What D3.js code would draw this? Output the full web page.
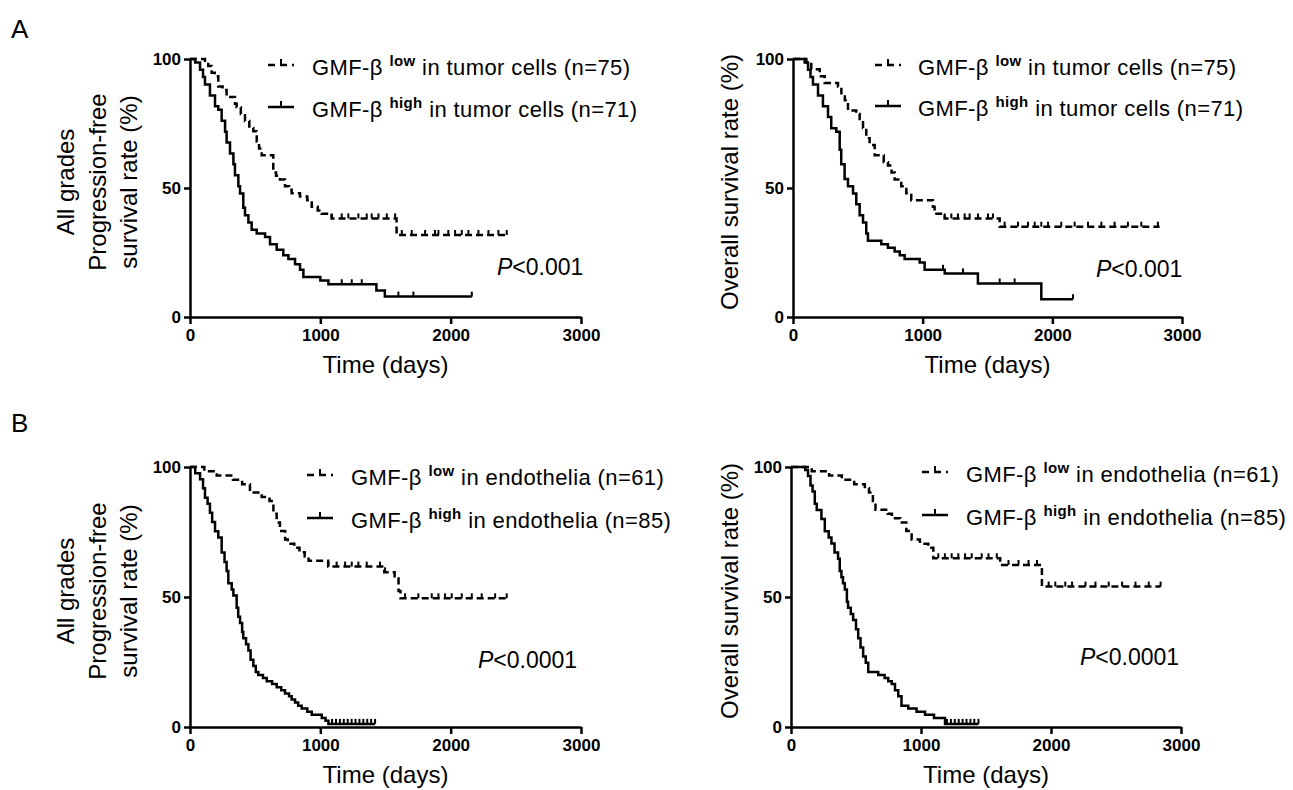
<!DOCTYPE html>
<html>
<head>
<meta charset="utf-8">
<script src="https://cdn.jsdelivr.net/npm/d3@7"></script>
<style>
  body { margin: 0; background: #fff; }
  text { font-family: "Liberation Sans", Arial, sans-serif; fill: #000; }
</style>
</head>
<body>
<script>

//Kaplan-Meier steps: [days, survival %]
var aPfsLow = [[0,100],[115,98.7],[140,97.3],[166,94.7],[190,93.3],[217,89.3],[250,88],[281,85.3],[345,82.7],[358,81.3],[390,78.7],[422,76],[455,73.3],[486,72],[512,68],[530,65.3],[550,62.7],[639,56],[660,54.7],[690,53.3],[729,50.7],[760,49.3],[780,48],[844,46.7],[900,45.3],[934,42.7],[980,41.3],[1010,40],[1087,38.2],[1585,31.8],[2430,31.8]];
var aPfsHigh = [[0,100],[40,98.6],[77,95.8],[100,93],[115,90.1],[153,85.9],[192,81.7],[217,80.3],[243,76.1],[269,71.8],[281,67.6],[307,63.4],[333,59.2],[345,54.9],[371,50.7],[384,47.9],[409,42.3],[422,39.4],[448,36.6],[473,33.8],[512,32.4],[576,31],[614,28.2],[665,26.1],[716,23.9],[755,22.5],[806,20.4],[844,18.3],[870,15.5],[1000,14.1],[1062,12.7],[1430,10.3],[1495,7.9],[2162,7.9]];
var aOsLow = [[0,100],[103,98.7],[141,96],[206,93.3],[244,90.7],[347,89.3],[373,86.7],[400,84],[424,80],[488,78.7],[514,76],[540,73.3],[565,69.3],[591,66.7],[630,62.7],[700,60],[732,58.7],[760,56],[784,53.3],[835,50.7],[874,48],[912,45.3],[1079,42.7],[1092,40],[1170,38.2],[1594,35],[2827,35]];
var aOsHigh = [[0,100],[90,98.6],[116,95.8],[135,93],[154,90.1],[193,85.9],[231,81.7],[270,77.5],[295,73.2],[334,71.8],[360,64.8],[372,59.2],[398,53.5],[424,50.7],[463,47.9],[488,43.7],[514,39.4],[540,36.6],[565,32.4],[578,29.6],[681,28.2],[732,26.8],[784,25.4],[823,23.9],[861,22.5],[977,21.1],[1015,18.3],[1170,16.9],[1426,13],[1915,6.9],[2159,6.9]];
var bPfsLow = [[0,100],[110,98.4],[205,96.7],[330,95.1],[400,93.4],[460,90.2],[550,88.5],[610,86.9],[640,82],[665,78.7],[690,75.4],[730,72.1],[750,70.5],[800,68.9],[840,67.2],[880,65.6],[910,63.9],[1060,61.7],[1490,59.5],[1570,57.1],[1600,52.3],[1615,49.5],[2435,49.5]];
var bPfsHigh = [[0,100],[40,97.6],[77,95.3],[100,91.8],[115,88.2],[135,85.9],[153,82.4],[170,78.8],[192,75.3],[217,72.9],[243,67.1],[265,63.5],[281,60],[294,55.3],[320,52.9],[333,50.6],[358,45.9],[370,42.4],[384,40],[400,36.5],[409,34.1],[430,31.8],[448,29.4],[465,25.9],[486,23.5],[505,21.2],[524,20],[560,18.8],[589,17.6],[630,16.5],[665,15.3],[700,14.1],[729,12.9],[760,11.8],[780,10.6],[806,9.4],[830,8.2],[857,7.1],[900,5.9],[934,4.7],[1011,3.5],[1040,2.4],[1062,1.2],[1420,1.2]];
var bOsLow = [[0,100],[160,98.4],[293,96.7],[391,95.1],[486,93.4],[568,91.8],[600,90.2],[630,86.9],[650,83.6],[744,82],[776,80.3],[840,78.7],[887,75.4],[928,72.1],[992,70.5],[1056,68.9],[1095,64.9],[1609,62.3],[1930,54],[2843,54]];
var bOsHigh = [[0,100],[110,98.8],[131,96.5],[150,92.9],[166,90.6],[183,85.9],[198,83.5],[234,80],[260,75.3],[290,72.9],[311,70.6],[335,67.1],[362,64.7],[375,60],[388,57.6],[400,55.3],[414,52.9],[430,48.2],[439,45.9],[460,43.5],[478,41.2],[500,37.6],[517,34.1],[535,30.6],[555,27.1],[575,24.7],[594,21.2],[671,20],[720,18.8],[748,17.6],[775,16.5],[800,14.1],[825,11.8],[850,8.2],[902,7.1],[966,5.9],[1031,4.7],[1100,3.5],[1185,1.2],[1442,1.2]];

//Censored times (days)
var aPfsLowCens = [1087,1164,1215,1292,1356,1394,1446,1510,1574,1625,1701,1804,1880,1906,1982,2034,2085,2136,2213,2290,2366,2430];
var aPfsHighCens = [1164,1241,1318,1599,1714,2162];
var aOsLowCens = [1170,1221,1272,1324,1362,1427,1504,1542,1632,1735,1812,1864,1915,1967,2069,2172,2275,2378,2480,2583,2686,2814];
var aOsHighCens = [1157,1311,1594,1709,2159];
var bPfsLowCens = [1062,1125,1190,1241,1292,1356,1458,1497,1650,1752,1855,1906,1957,2008,2085,2162,2238,2341,2430];
var bPfsHighCens = [1090,1120,1150,1180,1210,1240,1270,1300,1330,1360,1390,1420];
var bOsLowCens = [1133,1184,1236,1287,1339,1390,1467,1519,1583,1673,1750,1827,1892,1982,2033,2110,2162,2265,2342,2444,2547,2650,2752,2843];
var bOsHighCens = [1200,1230,1260,1290,1320,1350,1380,1410,1442];

//Labels and ticks
var xTicks = [0, 1000, 2000, 3000];
var yTicks = [0, 50, 100];
var xLabel = "Time (days)";
var pfsLabel = ["All grades", "Progression-free", "survival rate (%)"];
var osLabel = ["Overall survival rate (%)"];
var tumorLegend = [["low", " in tumor cells (n=75)"], ["high", " in tumor cells (n=71)"]];
var endoLegend = [["low", " in endothelia (n=61)"], ["high", " in endothelia (n=85)"]];
var pTumor = "<0.001";
var pEndo = "<0.0001";


var w = 1293;
var h = 790;

var svg = d3.select("body").append("svg")
    .attr("width", w)
    .attr("height", h);

//Panel layouts
var panels = [
    {left: 190, right: 581, bottom: 317, top: 59, low: aPfsLow, high: aPfsHigh, lowCens: aPfsLowCens, highCens: aPfsHighCens,
     legend: tumorLegend, sampleX: 268, textX: 312, legY: [75, 117], p: pTumor, pX: 497, pY: 275, yLabel: pfsLabel, yLabelX: [65, 97, 128]},
    {left: 793, right: 1182, bottom: 317, top: 59, low: aOsLow, high: aOsHigh, lowCens: aOsLowCens, highCens: aOsHighCens,
     legend: tumorLegend, sampleX: 875, textX: 918, legY: [75, 116], p: pTumor, pX: 1096, pY: 277, yLabel: osLabel, yLabelX: [729]},
    {left: 190, right: 581, bottom: 727, top: 467, low: bPfsLow, high: bPfsHigh, lowCens: bPfsLowCens, highCens: bPfsHighCens,
     legend: endoLegend, sampleX: 307, textX: 351, legY: [485, 528], p: pEndo, pX: 478, pY: 668, yLabel: pfsLabel, yLabelX: [65, 97, 128]},
    {left: 791, right: 1181, bottom: 727, top: 467, low: bOsLow, high: bOsHigh, lowCens: bOsLowCens, highCens: bOsHighCens,
     legend: endoLegend, sampleX: 922, textX: 966, legY: [482, 525], p: pEndo, pX: 1080, pY: 665, yLabel: osLabel, yLabelX: [729]}
];

//Survival value at time t from step data
function survAt(steps, t) {
    var s = steps[0][1];
    for (var i = 0; i < steps.length; i++) {
        if (steps[i][0] <= t) s = steps[i][1];
    }
    return s;
}

panels.forEach(function(p) {

    var x = d3.scaleLinear().domain([0, 3000]).range([p.left, p.right]);
    var y = d3.scaleLinear().domain([0, 100]).range([p.bottom, p.top]);

    var g = svg.append("g");

    //Axes
    var xAxis = g.append("g")
        .attr("transform", "translate(0," + p.bottom + ")")
        .call(d3.axisBottom(x).tickValues(xTicks).tickFormat(d3.format("d")).tickSize(7).tickSizeOuter(0).tickPadding(5));
    var yAxis = g.append("g")
        .attr("transform", "translate(" + p.left + ",0)")
        .call(d3.axisLeft(y).tickValues(yTicks).tickFormat(d3.format("d")).tickSize(6).tickSizeOuter(0).tickPadding(3));

    [xAxis, yAxis].forEach(function(a) {
        a.selectAll("path, line").style("stroke", "#000").style("stroke-width", 2.5);
        a.selectAll("text")
            .style("font-size", "17px")
            .style("font-weight", "bold")
            .style("font-family", '"Liberation Sans", Arial, sans-serif')
            .style("fill", "#000");
    });

    //Curves
    var line = d3.line()
        .x(function(d) { return x(d[0]); })
        .y(function(d) { return y(d[1]); })
        .curve(d3.curveStepAfter);

    g.append("path")
        .datum(p.high)
        .attr("d", line)
        .style("fill", "none")
        .style("stroke", "#000")
        .style("stroke-width", 2.5);

    g.append("path")
        .datum(p.low)
        .attr("d", line)
        .style("fill", "none")
        .style("stroke", "#000")
        .style("stroke-width", 2.5)
        .style("stroke-dasharray", "7,4");

    //Censor marks
    [[p.high, p.highCens], [p.low, p.lowCens]].forEach(function(c) {
        g.selectAll(null)
            .data(c[1])
            .enter()
            .append("line")
            .attr("x1", function(d) { return x(d); })
            .attr("x2", function(d) { return x(d); })
            .attr("y1", function(d) { return y(survAt(c[0], d)); })
            .attr("y2", function(d) { return y(survAt(c[0], d)) - 5; })
            .style("stroke", "#000")
            .style("stroke-width", 2);
    });

    //Legend
    p.legend.forEach(function(item, i) {
        var ly = p.legY[i] - 10;
        g.append("line")
            .attr("x1", p.sampleX).attr("x2", p.sampleX + 26)
            .attr("y1", ly).attr("y2", ly)
            .style("stroke", "#000")
            .style("stroke-width", 2.5)
            .style("stroke-dasharray", i === 0 ? "7,5" : null);
        g.append("line")
            .attr("x1", p.sampleX + 13).attr("x2", p.sampleX + 13)
            .attr("y1", ly).attr("y2", ly - 6)
            .style("stroke", "#000")
            .style("stroke-width", 2);

        var t = g.append("text")
            .attr("x", p.textX)
            .attr("y", p.legY[i])
            .style("font-size", "22px")
            .style("letter-spacing", "0.4px");
        t.append("tspan").text("GMF-β ");
        t.append("tspan")
            .attr("dy", -9)
            .style("font-size", "15px")
            .style("font-weight", "bold")
            .text(item[0]);
        t.append("tspan")
            .attr("dy", 9)
            .text(item[1]);
    });

    //P value
    var pt = g.append("text")
        .attr("x", p.pX)
        .attr("y", p.pY)
        .style("font-size", "23px");
    pt.append("tspan").style("font-style", "italic").text("P");
    pt.append("tspan").text(p.p);

    //Axis titles
    g.append("text")
        .attr("x", (p.left + p.right) / 2)
        .attr("y", p.bottom + 56)
        .style("font-size", "24px")
        .style("text-anchor", "middle")
        .text(xLabel);

    p.yLabel.forEach(function(lbl, i) {
        g.append("text")
            .attr("transform", "translate(" + p.yLabelX[i] + "," + ((p.top + p.bottom) / 2 - 6) + ") rotate(-90)")
            .attr("dy", "0.36em")
            .style("font-size", "24px")
            .style("text-anchor", "middle")
            .text(lbl);
    });
});

//Panel letters
svg.append("text").attr("x", 11).attr("y", 38).style("font-size", "26px").text("A");
svg.append("text").attr("x", 11).attr("y", 432).style("font-size", "26px").text("B");

</script>
</body>
</html>
